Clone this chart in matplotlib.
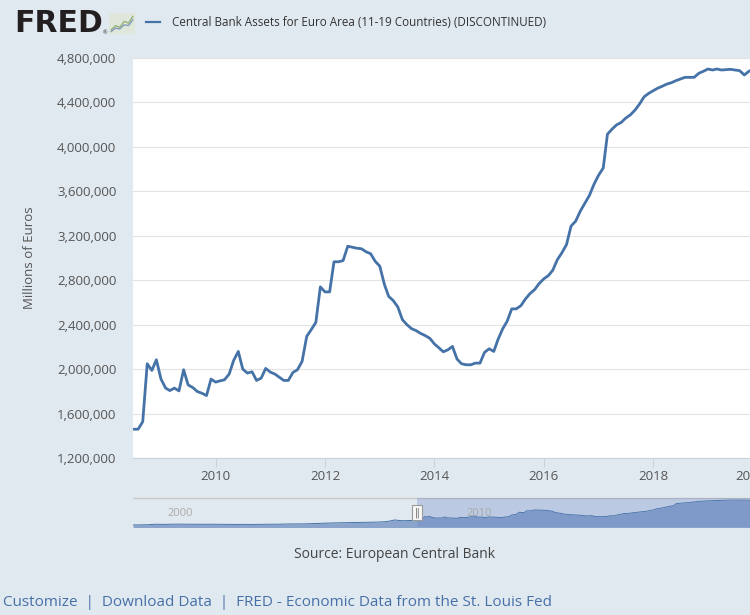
import numpy as np
import pandas as pd
import matplotlib
matplotlib.use('Agg')
import matplotlib.pyplot as plt
from matplotlib.patches import Rectangle

plt.rcParams['font.family'] = ['Open Sans', 'DejaVu Sans']

# monthly values, thousands of millions of euros, Jun 2008 - Nov 2019
assets_k = [
    1459, 1459, 1459, 1527, 2048, 1988, 2084,                                  # 2008 Jun-Dec
    1910, 1829, 1807, 1829, 1804, 1994, 1858, 1834, 1798, 1783, 1762, 1910,    # 2009
    1883, 1895, 1904, 1955, 2078, 2159, 2000, 1964, 1976, 1898, 1919, 2006,    # 2010
    1973, 1955, 1928, 1898, 1898, 1970, 1994, 2069, 2294, 2355, 2421, 2740,    # 2011
    2695, 2695, 2966, 2966, 2977, 3106, 3097, 3088, 3083, 3056, 3038, 2971,    # 2012
    2926, 2761, 2655, 2616, 2560, 2445, 2400, 2364, 2346, 2321, 2301, 2277,    # 2013
    2226, 2190, 2156, 2174, 2204, 2090, 2048, 2039, 2039, 2054, 2054, 2150,    # 2014
    2183, 2159, 2265, 2361, 2430, 2542, 2542, 2571, 2632, 2680, 2716, 2770,    # 2015
    2812, 2842, 2890, 2986, 3047, 3122, 3287, 3332, 3422, 3492, 3564, 3663,    # 2016
    3745, 3810, 4114, 4160, 4198, 4220, 4259, 4288, 4331, 4385, 4451, 4481,    # 2017
    4506, 4529, 4545, 4565, 4577, 4596, 4611, 4626, 4626, 4626, 4662, 4680,    # 2018
    4701, 4692, 4701, 4692, 4695, 4698, 4692, 4686, 4647, 4680, 4700,          # 2019 Jan-Nov
]
dates = pd.date_range('2008-06-01', periods=len(assets_k), freq='MS')
assets = np.array(assets_k) * 1000

# earlier history only visible in the navigator (quarterly, 1999Q1 - 2008Q2)
early_k = [700, 720, 740, 820, 800, 820, 840, 830, 820, 810, 820, 810,
           790, 790, 790, 800, 790, 800, 800, 820, 840, 870, 880, 880,
           920, 960, 1000, 1040, 1060, 1080, 1100, 1130, 1150, 1180, 1250, 1500,
           1380, 1420]
early_dates = pd.date_range('1999-01-01', periods=len(early_k), freq='QS')
nav_dates = early_dates.append(dates)
nav_vals = np.concatenate([np.array(early_k) * 1000, assets])

y_ticks = np.arange(1200000, 4800001, 400000)
x_years = [2010, 2012, 2014, 2016, 2018]

BG = '#e1e9f0'
LINE = '#4572a7'
W, H = 750, 615

fig = plt.figure(figsize=(7.5, 6.15), dpi=100, facecolor=BG)

# main chart
ax = fig.add_axes([133 / W, 1 - 458 / H, 617 / W, 400 / H])
ax.plot(dates, assets, color=LINE, lw=2.0, solid_joinstyle='round', zorder=3)
ax.set_xlim(pd.Timestamp('2008-06-28'), pd.Timestamp('2019-10-09'))
ax.set_ylim(1200000, 4800000)
ax.set_yticks(y_ticks)
ax.set_yticklabels([f'{v:,}' for v in y_ticks])
ax.set_xticks([pd.Timestamp(f'{y}-01-01') for y in x_years])
ax.set_xticklabels([str(y) for y in x_years])
ax.grid(axis='y', color='#e3e3e3', lw=0.8)
ax.set_axisbelow(True)
for s in ['top', 'right', 'left']:
    ax.spines[s].set_visible(False)
ax.spines['bottom'].set_color('#c8d3de')
ax.tick_params(axis='y', length=0, pad=12, labelsize=9.5, labelcolor='#555555')
ax.tick_params(axis='x', length=6.5, width=0.8, color='#c8d3de', pad=2,
               labelsize=9.5, labelcolor='#555555')
# last year label is pushed in to the edge and cut by the crop, as in the screenshot
ax.text(0.977, -0.03, '2020', transform=ax.transAxes,
        ha='left', va='top', fontsize=9.5, color='#555555', clip_on=False)
ax.set_ylabel('Millions of Euros', fontsize=9.5, color='#555555')
ax.yaxis.set_label_coords(-0.157, 0.5)

# navigator
nav = fig.add_axes([133 / W, 1 - 527 / H, 617 / W, 29 / H])
nav.set_facecolor(BG)
nav.fill_between(nav_dates, nav_vals, 0, color='#8aa4cc', lw=0, zorder=1)
nav.plot(nav_dates, nav_vals, color=LINE, lw=0.7, zorder=2)
nav.set_xlim(pd.Timestamp('1999-01-01'), pd.Timestamp('2019-08-20'))
nav.set_ylim(380000, 5020000)
sel_start = pd.Timestamp('2008-06-28')
nav.axvspan(sel_start, pd.Timestamp('2021-01-01'), color=(102 / 255, 133 / 255, 194 / 255, 0.3),
            lw=0, zorder=3)
for y in [2000, 2010]:
    nav.text(pd.Timestamp(f'{y}-03-01'), 0.48, str(y), transform=nav.get_xaxis_transform(),
             fontsize=8, color='#aaaaaa', va='center', ha='left', zorder=4)
nav.set_xticks([])
nav.set_yticks([])
for s in ['right', 'left', 'bottom']:
    nav.spines[s].set_visible(False)
nav.spines['top'].set_color('#c8c8c8')
nav.spines['top'].set_linewidth(1.0)
nav.text(sel_start, 0.5, '‖', transform=nav.get_xaxis_transform(), ha='center', va='center',
         fontsize=7, color='#666666', zorder=6, family='DejaVu Sans',
         bbox=dict(boxstyle='square,pad=0.25', fc='#f7f7f7', ec='#999999', lw=0.8))

# header: FRED logo + legend
fig.text(14 / W, 1 - 24 / H, 'FRED', fontsize=21.5, fontweight='heavy', color='#231f20',
         family='DejaVu Sans', va='center', ha='left')
fig.text(103 / W, 1 - 33 / H, '®', fontsize=4, color='#231f20', va='center')
icon = fig.add_axes([109 / W, 1 - 34 / H, 26 / W, 21 / H])
icon.add_patch(Rectangle((0, 0), 1, 1, transform=icon.transAxes, color='#dfe6da', zorder=0))
icon_a = [1, 2, 1.6, 3, 2.6, 4.2]
icon_b = [0.6, 1.4, 1.2, 2.2, 2.0, 3.4]
icon.plot(icon_a, color='#8fb070', lw=0.9)
icon.plot(icon_b, color='#7d95b8', lw=0.9)
icon.set_xlim(-0.5, 5.5)
icon.set_ylim(0, 5)
icon.axis('off')

fig.add_artist(plt.Line2D([146 / W, 160 / W], [1 - 22 / H, 1 - 22 / H], color=LINE, lw=1.6))
fig.text(172 / W, 1 - 22 / H, 'Central Bank Assets for Euro Area (11-19 Countries) (DISCONTINUED)',
         fontsize=8.4, color='#333333', va='center', ha='left')

# footer
fig.text(394 / W, 1 - 554 / H, 'Source: European Central Bank', fontsize=10,
         color='#444444', ha='center', va='center')
fig.text(3 / W, 1 - 603 / H,
         'Customize  |  Download Data  |  FRED - Economic Data from the St. Louis Fed',
         fontsize=11, color='#4670a8', ha='left', va='center')

fig.savefig('out.png', dpi=100, facecolor=BG)
